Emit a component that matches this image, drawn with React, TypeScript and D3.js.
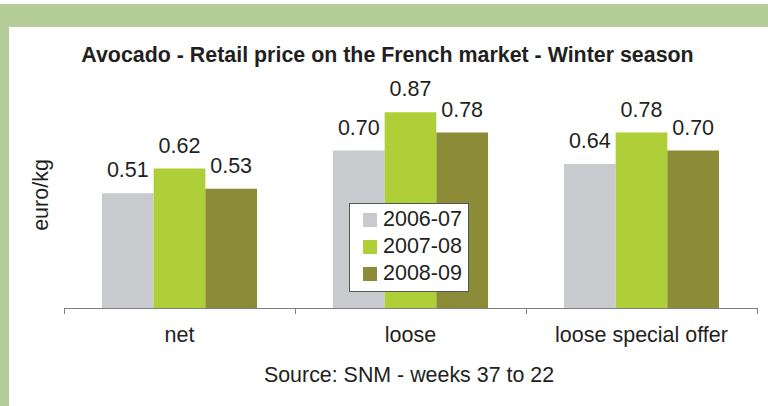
import React from "react";
import * as d3 from "d3";

const categories = ["net", "loose", "loose special offer"];
const seasons = ["2006-07", "2007-08", "2008-09"];
const values2006 = [0.51, 0.70, 0.64];
const values2007 = [0.62, 0.87, 0.78];
const values2008 = [0.53, 0.78, 0.70];
const seriesColors = ["#c9cace", "#aecf38", "#8b8b38"];
const title = "Avocado - Retail price on the French market - Winter season";
const source = "Source: SNM - weeks 37 to 22";
const yLabel = "euro/kg";

const W = 768;
const H = 406;
const FONT = "Arial, 'Liberation Sans', Helvetica, sans-serif";
const TEXT = "#231f20";

export default function App() {
  const series = [values2006, values2007, values2008];
  const x0 = d3.scaleBand<string>().domain(categories).range([64, 757]).padding(0);
  const x1 = d3
    .scaleBand<string>()
    .domain(seasons)
    .range([0, x0.bandwidth()])
    .paddingInner(0)
    .paddingOuter(0.735);
  const y = d3.scaleLinear().domain([0, 1]).range([308, 83]);
  const base = y(0);

  const ticks = [...categories.map((c) => x0(c) as number), 757];

  return (
    <svg
      width={W}
      height={H}
      style={{ position: "absolute", left: 0, top: 0, display: "block" }}
      fontFamily={FONT}
    >
      <rect x={0} y={0} width={W} height={H} fill="#ffffff" />
      <rect x={0} y={4} width={W} height={23} fill="#b5cd99" />
      <rect x={0} y={4} width={9} height={H - 4} fill="#b5cd99" />

      <text x={387.5} y={62} textAnchor="middle" fontSize={21.4} fontWeight="bold" fill={TEXT}>
        {title}
      </text>

      {categories.map((c, ci) => (
        <g key={c} transform={`translate(${x0(c)},0)`}>
          {seasons.map((s, si) => {
            const v = series[si][ci];
            const bx = x1(s) as number;
            return (
              <g key={s}>
                <rect x={bx} y={y(v)} width={x1.bandwidth()} height={base - y(v)} fill={seriesColors[si]} />
                <text
                  x={bx + x1.bandwidth() / 2}
                  y={y(v) - 16}
                  textAnchor="middle"
                  fontSize={21.5}
                  fill={TEXT}
                >
                  {v.toFixed(2)}
                </text>
              </g>
            );
          })}
          <text x={x0.bandwidth() / 2} y={342} textAnchor="middle" fontSize={21.5} fill={TEXT}>
            {c}
          </text>
        </g>
      ))}

      <line x1={64} x2={757} y1={base + 0.5} y2={base + 0.5} stroke="#7f7f7f" strokeWidth={1} />
      {ticks.map((t, i) => (
        <line key={i} x1={t + 0.5} x2={t + 0.5} y1={base} y2={base + 6} stroke="#7f7f7f" strokeWidth={1} />
      ))}

      <text
        transform={`translate(48,195) rotate(-90)`}
        textAnchor="middle"
        fontSize={21.5}
        fill={TEXT}
      >
        {yLabel}
      </text>

      <g>
        <rect x={349.5} y={203.5} width={119} height={88} fill="#ffffff" stroke="#555555" strokeWidth={1} />
        {seasons.map((s, i) => (
          <g key={s} transform={`translate(0,${i * 27})`}>
            <rect x={363} y={213} width={14} height={14} fill={seriesColors[i]} />
            <text x={383} y={226} fontSize={21.5} fill={TEXT}>
              {s}
            </text>
          </g>
        ))}
      </g>

      <text x={409} y={382} textAnchor="middle" fontSize={21.4} fill={TEXT}>
        {source}
      </text>
    </svg>
  );
}
